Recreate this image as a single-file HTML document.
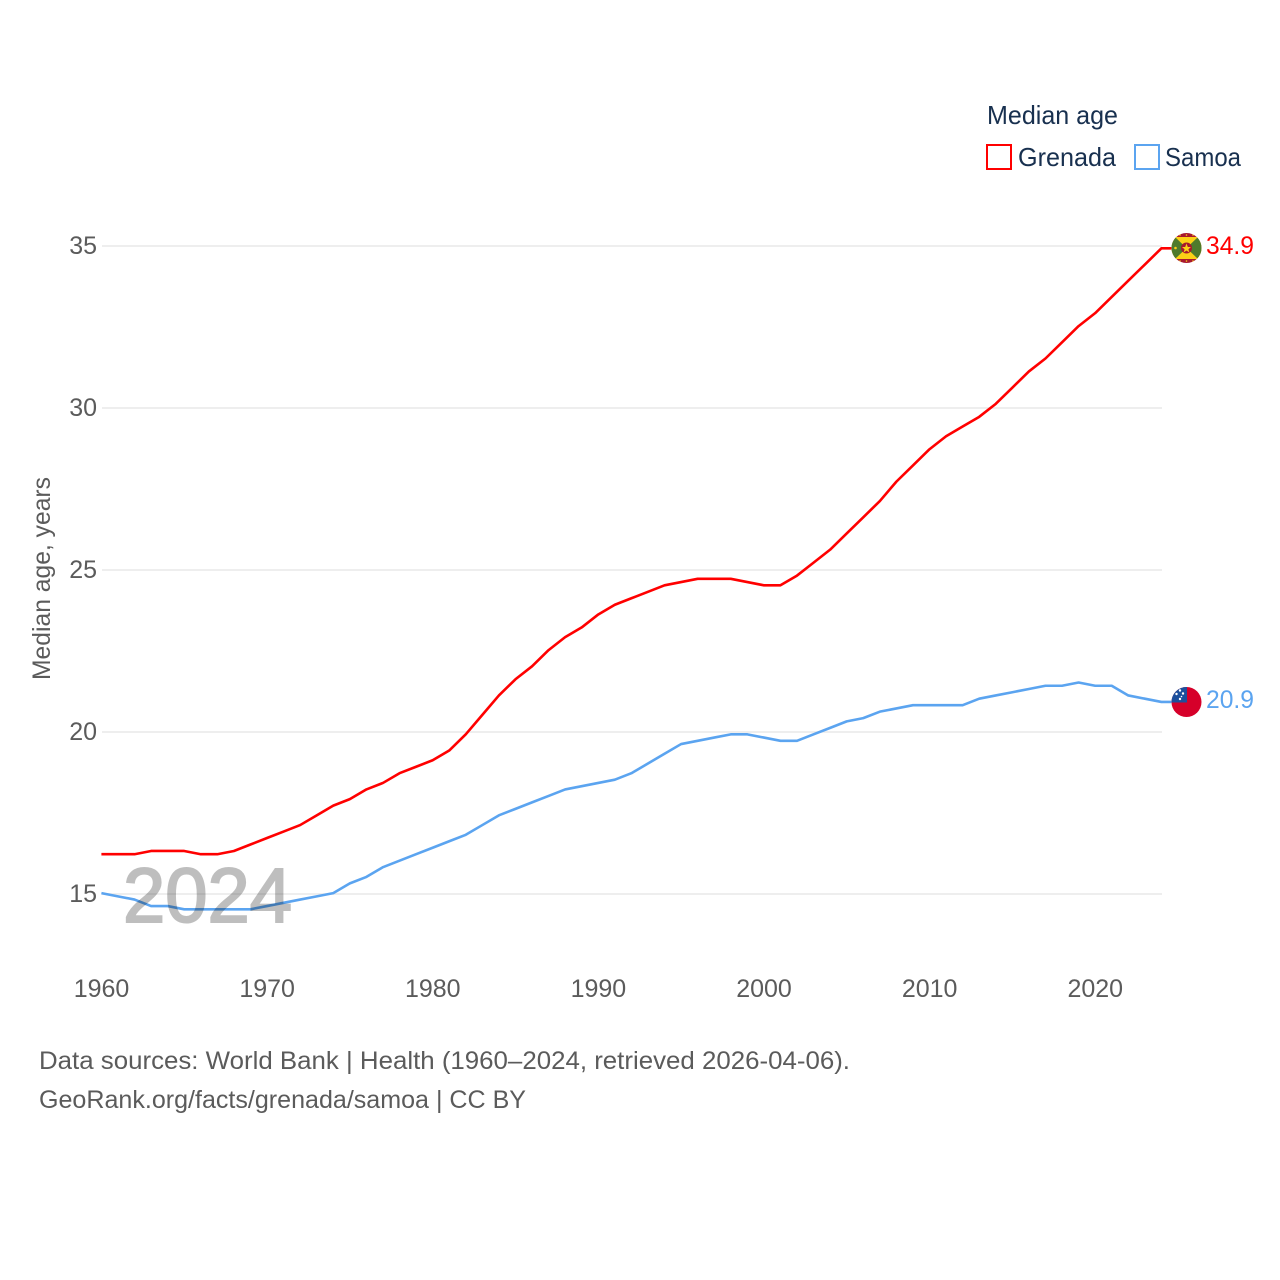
<!DOCTYPE html>
<html lang="en">
<head>
<meta charset="utf-8">
<title>Median age: Grenada and Samoa</title>
<style>
  html, body { margin: 0; padding: 0; background: #fff; }
  svg { display: block; font-family: "Liberation Sans", sans-serif; }
</style>
</head>
<body>
<svg id="chart" width="1280" height="1280" viewBox="0 0 1280 1280" xmlns="http://www.w3.org/2000/svg">
  <defs>
    <clipPath id="flag-clip-grenada"><circle cx="1186.5" cy="248" r="15"></circle></clipPath>
    <clipPath id="flag-clip-samoa"><circle cx="1186.5" cy="702" r="15"></circle></clipPath>
  </defs>
  <rect x="0" y="0" width="1280" height="1280" fill="#ffffff"></rect>

  <g id="grid"></g>
  <g id="y-ticks"></g>
  <g id="x-ticks"></g>

  <text transform="translate(50,680) rotate(-90)" font-size="25" fill="#5b5b5b" textLength="203" lengthAdjust="spacingAndGlyphs">Median age, years</text>

  <g id="series"></g>

  <text x="123" y="922" font-size="77" fill="#000000" stroke="#000000" stroke-width="2" opacity="0.25" textLength="169" lengthAdjust="spacingAndGlyphs">2024</text>

  <g>
    <text x="987" y="124" font-size="26" fill="#18304f" textLength="131" lengthAdjust="spacingAndGlyphs">Median age</text>
    <g>
      <rect x="987" y="145" width="24" height="24" fill="#ffffff" stroke="#ff0000" stroke-width="2"></rect>
      <text x="1018" y="166" font-size="26" fill="#18304f" textLength="98" lengthAdjust="spacingAndGlyphs">Grenada</text>
    </g>
    <g>
      <rect x="1135" y="145" width="24" height="24" fill="#ffffff" stroke="#5ba4f0" stroke-width="2"></rect>
      <text x="1165" y="166" font-size="26" fill="#18304f" textLength="76" lengthAdjust="spacingAndGlyphs">Samoa</text>
    </g>
  </g>

  <g clip-path="url(#flag-clip-grenada)">
    <rect x="1171" y="233" width="31" height="31" fill="#a8182e"></rect>
    <rect x="1171" y="237" width="31" height="22" fill="#fcd116"></rect>
    <polygon points="1171,237 1175,237 1186.5,248 1175,259 1171,259" fill="#4e7a2c"></polygon>
    <polygon points="1202,237 1198,237 1186.5,248 1198,259 1202,259" fill="#4e7a2c"></polygon>
    <circle cx="1186.5" cy="248" r="5.5" fill="#a8182e"></circle>
    <polygon points="1186.5,243.5 1187.8,247 1191,247 1188.4,249.2 1189.4,252.5 1186.5,250.5 1183.6,252.5 1184.6,249.2 1182,247 1185.2,247" fill="#fcd116"></polygon>
    <circle cx="1175.5" cy="248" r="1.3" fill="#fcd116"></circle>
    <g fill="#fcd116">
      <circle cx="1180" cy="235" r="0.8"></circle>
      <circle cx="1186.5" cy="235" r="0.8"></circle>
      <circle cx="1193" cy="235" r="0.8"></circle>
      <circle cx="1180" cy="261" r="0.8"></circle>
      <circle cx="1186.5" cy="261" r="0.8"></circle>
      <circle cx="1193" cy="261" r="0.8"></circle>
    </g>
  </g>
  <g clip-path="url(#flag-clip-samoa)">
    <rect x="1171" y="687" width="31" height="31" fill="#d6002a"></rect>
    <rect x="1171" y="687" width="16" height="15.5" fill="#1c4f9c"></rect>
    <g fill="#ffffff">
      <circle cx="1180" cy="690.5" r="1.2"></circle>
      <circle cx="1176.5" cy="694" r="1.2"></circle>
      <circle cx="1183" cy="693.5" r="1.2"></circle>
      <circle cx="1181.5" cy="696.5" r="0.8"></circle>
      <circle cx="1180" cy="699" r="1.2"></circle>
    </g>
  </g>

  <text x="1206" y="254" font-size="25" fill="#ff0000" textLength="48" lengthAdjust="spacingAndGlyphs">34.9</text>
  <text x="1206" y="708" font-size="25" fill="#5ba4f0" textLength="48" lengthAdjust="spacingAndGlyphs">20.9</text>

  <text x="39" y="1069" font-size="25" fill="#5b5b5b" textLength="811" lengthAdjust="spacingAndGlyphs">Data sources: World Bank | Health (1960–2024, retrieved 2026-04-06).</text>
  <text x="39" y="1108" font-size="25" fill="#5b5b5b" textLength="487" lengthAdjust="spacingAndGlyphs">GeoRank.org/facts/grenada/samoa | CC BY</text>
</svg>

<script>
const years = [1960,1961,1962,1963,1964,1965,1966,1967,1968,1969,1970,1971,1972,1973,1974,1975,1976,1977,1978,1979,1980,1981,1982,1983,1984,1985,1986,1987,1988,1989,1990,1991,1992,1993,1994,1995,1996,1997,1998,1999,2000,2001,2002,2003,2004,2005,2006,2007,2008,2009,2010,2011,2012,2013,2014,2015,2016,2017,2018,2019,2020,2021,2022,2023,2024];
const grenadaValues = [16.2,16.2,16.2,16.3,16.3,16.3,16.2,16.2,16.3,16.5,16.7,16.9,17.1,17.4,17.7,17.9,18.2,18.4,18.7,18.9,19.1,19.4,19.9,20.5,21.1,21.6,22.0,22.5,22.9,23.2,23.6,23.9,24.1,24.3,24.5,24.6,24.7,24.7,24.7,24.6,24.5,24.5,24.8,25.2,25.6,26.1,26.6,27.1,27.7,28.2,28.7,29.1,29.4,29.7,30.1,30.6,31.1,31.5,32.0,32.5,32.9,33.4,33.9,34.4,34.9];
const samoaValues = [15.0,14.9,14.8,14.6,14.6,14.5,14.5,14.5,14.5,14.5,14.6,14.7,14.8,14.9,15.0,15.3,15.5,15.8,16.0,16.2,16.4,16.6,16.8,17.1,17.4,17.6,17.8,18.0,18.2,18.3,18.4,18.5,18.7,19.0,19.3,19.6,19.7,19.8,19.9,19.9,19.8,19.7,19.7,19.9,20.1,20.3,20.4,20.6,20.7,20.8,20.8,20.8,20.8,21.0,21.1,21.2,21.3,21.4,21.4,21.5,21.4,21.4,21.1,21.0,20.9];
const yTickValues = [15,20,25,30,35];
const xTickValues = [1960,1970,1980,1990,2000,2010,2020];

const SVG_NS = 'http://www.w3.org/2000/svg';
const xScale = function (year) { return 102 + (year - 1960) * (1060 / 64); };
const yScale = function (value) { return 894 - (value - 15) * 32.4; };
const lineX = function (year) { return xScale(year) - 0.6; };
const lineY = function (value) { return yScale(value) - 0.9; };

const gridGroup = document.getElementById('grid');
const yTickGroup = document.getElementById('y-ticks');
const xTickGroup = document.getElementById('x-ticks');
const seriesGroup = document.getElementById('series');

yTickValues.forEach(function (tick) {
  const y = yScale(tick);
  const line = document.createElementNS(SVG_NS, 'line');
  
  
  line.setAttribute('x1', 102);
  line.setAttribute('x2', 1162);
  line.setAttribute('y1', y);
  line.setAttribute('y2', y);
  line.setAttribute('stroke', '#e9e9e9');
  line.setAttribute('stroke-width', '1.5');
  gridGroup.appendChild(line);

  const label = document.createElementNS(SVG_NS, 'text');
  
  
  label.setAttribute('x', 97);
  label.setAttribute('y', y + 8);
  label.setAttribute('text-anchor', 'end');
  label.setAttribute('font-size', '25');
  label.setAttribute('fill', '#5b5b5b');
  label.textContent = String(tick);
  yTickGroup.appendChild(label);
});

xTickValues.forEach(function (tick) {
  const label = document.createElementNS(SVG_NS, 'text');
  
  
  label.setAttribute('x', xScale(tick) - 0.5);
  label.setAttribute('y', 997);
  label.setAttribute('text-anchor', 'middle');
  label.setAttribute('font-size', '25');
  label.setAttribute('fill', '#5b5b5b');
  label.textContent = String(tick);
  xTickGroup.appendChild(label);
});

function drawSeries(name, values, color) {
  const parts = values.map(function (value, i) {
    return (i === 0 ? 'M' : 'L') + lineX(years[i]).toFixed(2) + ',' + lineY(value).toFixed(2);
  });
  const lastValue = values[values.length - 1];
  parts.push('L' + (lineX(years[years.length - 1]) + 10).toFixed(2) + ',' + lineY(lastValue).toFixed(2));
  const path = document.createElementNS(SVG_NS, 'path');
  
  
  path.setAttribute('d', parts.join(' '));
  path.setAttribute('fill', 'none');
  path.setAttribute('stroke', color);
  path.setAttribute('stroke-width', '2.6');
  path.setAttribute('stroke-linejoin', 'round');
  seriesGroup.appendChild(path);
}

drawSeries('grenada', grenadaValues, '#ff0000');
drawSeries('samoa', samoaValues, '#5ba4f0');
</script>
</body>
</html>
